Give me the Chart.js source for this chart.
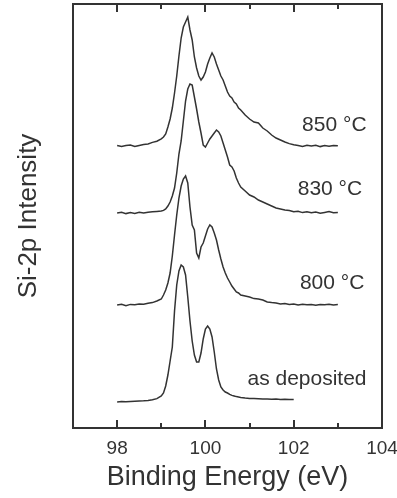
<!DOCTYPE html>
<html>
<head>
<meta charset="utf-8">
<script src="https://cdn.jsdelivr.net/npm/chart.js@4/dist/chart.umd.min.js"></script>
<style>
    html, body { margin: 0; padding: 0; background: #ffffff; }
    #wrap { width: 397px; height: 498px; }
</style>
</head>
<body>
<div id="wrap"><canvas id="xps" width="397" height="498"></canvas></div>
<script>
// binding energy grid (eV), finer around the Si-2p doublet
const ENERGY_EV = [
    98.0, 98.1, 98.2, 98.3, 98.4, 98.5, 98.6, 98.7, 98.8, 98.9, 99.0,
    99.05, 99.1, 99.15, 99.2, 99.25, 99.3, 99.35, 99.4, 99.45, 99.5,
    99.55, 99.6, 99.65, 99.7, 99.75, 99.8, 99.85, 99.9, 99.95, 100.0,
    100.05, 100.1, 100.15, 100.2, 100.25, 100.3, 100.35, 100.4, 100.45, 100.5,
    100.55, 100.6, 100.65, 100.7, 100.75, 100.8,
    100.9, 101.0, 101.1, 101.2, 101.3, 101.4, 101.5, 101.6, 101.7, 101.8,
    101.9, 102.0, 102.1, 102.2, 102.3, 102.4, 102.5, 102.6, 102.7, 102.8,
    102.9, 103.0
];

const SAMPLES = ['as deposited', '800 °C', '830 °C', '850 °C'];

// vertical offset of each spectrum in the stack (arb. units)
const STACK_OFFSETS = [13.5, 61.5, 107.5, 141];

const INTENSITY_AS_DEPOSITED = [
    -0.5, -0.3, -0.4, -0.2, -0.1, 0, 0.1, 0.3, 0.6, 1.2, 2.5,
    4, 7.5, 13, 20, 27, 45, 58, 65, 68, 67,
    63, 52, 40, 30, 23, 19.5, 19.5, 24, 31, 36,
    37.5, 36, 32, 24.5, 16, 10.5, 7, 5.5, 4.5, 4,
    3.3, 2.8, 2.5, 2.2, 2, 1.8,
    1.5, 1.3, 1.2, 1.1, 1, 1, 0.9, 1, 0.8, 0.9,
    0.8, 0.8, null, null, null, null, null, null, null, null,
    null, null
];

const INTENSITY_800 = [
    0, 0.4, -0.3, 0.3, 0.1, 0.5, 0.4, 0.9, 1.2, 2, 3,
    5, 7.5, 11, 16, 24.5, 35, 45, 53.5, 59.5, 63,
    64.5, 61, 49, 40, 37.5, 26, 23.5, 29, 31, 34.5,
    38, 40, 39, 36, 32.5, 27.5, 23, 19, 16, 13.5,
    11.5, 9.5, 8, 6.5, 6, 5,
    4.5, 4, 3.2, 3, 2.5, 1.5, 1.2, 1, 0.5, 0.8,
    0.3, 0.5, 0, 0.4, 0.1, 0.3, -0.1, 0.3, 0.1, 0.4,
    0, 0.2
];

const INTENSITY_830 = [
    0, 0.4, -0.3, 0.2, -0.2, 0.4, 0, 0.4, 0.6, 0.8, 1.0,
    1.3, 2, 3.5, 5.5, 8.5, 12.5, 20, 29.5, 36, 46,
    56, 62, 64.5, 64, 58, 52, 45.5, 40, 34, 33,
    35, 37, 38.5, 40, 41.5, 40.5, 38.5, 35, 31.5, 28,
    24, 23, 21, 17.5, 15, 13,
    11, 9, 8, 6.5, 5.5, 4.5, 3.5, 2.5, 2, 1.5,
    1.2, 0.6, 0.9, 0.2, 0.6, 0.1, 0.5, -0.1, 0.3, 0.7,
    0.1, 0.3
];

const INTENSITY_850 = [
    0.2, -0.3, 0.2, 0.5, -0.2, 0.3, 0.8, 1.0, 1.8, 2.4, 3.6,
    4.5, 6, 9.5, 13.5, 19, 26.5, 35, 45, 54, 59.5,
    62, 64.5, 58, 53, 44.5, 39, 35, 33, 34.5, 37,
    41, 44, 46.5, 44.5, 41, 38, 35, 33, 30, 27,
    25, 24, 22, 21, 19, 18,
    15.5, 13.5, 12, 11.5, 9, 7.5, 5.5, 4, 3, 2,
    1.2, 0.6, 0.3, -0.2, 0.4, 0, 0.4, -0.3, 0.2, -0.1,
    0.3, 0.1
];

const SPECTRA = [INTENSITY_AS_DEPOSITED, INTENSITY_800, INTENSITY_830, INTENSITY_850];

const INK = '#333333';
const FONT = '"Liberation Sans", Arial, Helvetica, sans-serif';

// where each sample name sits (energy, stacked intensity), right aligned
const LABEL_ANCHORS = [
    { x: 103.65, y: 21.5 },
    { x: 103.6, y: 69.5 },
    { x: 103.55, y: 116.5 },
    { x: 103.65, y: 148.5 }
];

const framePlugin = {
    id: 'frame',
    afterDraw(chart) {
        const { ctx, chartArea: area, scales } = chart;
        const xScale = scales.x;
        const yScale = scales.y;

        ctx.save();
        ctx.strokeStyle = INK;
        ctx.lineWidth = 2;
        ctx.strokeRect(area.left, area.top, area.right - area.left, area.bottom - area.top);

        // inward ticks on top and bottom, longer on labelled values
        xScale.getTicks().forEach(tick => {
            const value = Number(tick.value);
            if (value <= xScale.min || value >= xScale.max) {
                return;
            }
            const len = value % 2 === 0 ? 8 : 5;
            const px = Math.round(xScale.getPixelForValue(value));
            ctx.beginPath();
            ctx.moveTo(px, area.bottom);
            ctx.lineTo(px, area.bottom - len);
            ctx.stroke();
            ctx.beginPath();
            ctx.moveTo(px, area.top);
            ctx.lineTo(px, area.top + len);
            ctx.stroke();
        });

        ctx.fillStyle = INK;
        ctx.font = `21px ${FONT}`;
        ctx.textAlign = 'right';
        ctx.textBaseline = 'alphabetic';
        SAMPLES.forEach((name, index) => {
            const anchor = LABEL_ANCHORS[index];
            ctx.fillText(name, xScale.getPixelForValue(anchor.x), yScale.getPixelForValue(anchor.y));
        });
        ctx.restore();
    }
};

new Chart(document.getElementById('xps'), {
    type: 'line',
    data: {
        datasets: SPECTRA.map((values, index) => ({
            label: SAMPLES[index],
            data: ENERGY_EV.map((energy, i) => ({
                x: energy,
                y: values[i] === null ? null : values[i] + STACK_OFFSETS[index]
            })),
            borderColor: INK,
            borderWidth: 1.5,
            pointRadius: 0,
            tension: 0,
            spanGaps: false
        }))
    },
    options: {
        responsive: false,
        animation: false,
        layout: { padding: { top: 4, right: 15, left: 0, bottom: 0 } },
        plugins: {
            legend: { display: false },
            tooltip: { enabled: false }
        },
        scales: {
            x: {
                type: 'linear',
                min: 97,
                max: 104,
                afterFit(scale) {
                    scale.height = 70;
                    scale.paddingLeft = 0;
                    scale.paddingRight = 0;
                },
                grid: { display: false, drawTicks: false },
                border: { display: false },
                ticks: {
                    stepSize: 1,
                    autoSkip: false,
                    maxRotation: 0,
                    padding: 9,
                    color: INK,
                    font: { family: FONT, size: 19 },
                    callback(value) {
                        return value % 2 === 0 ? String(value) : '';
                    }
                },
                title: {
                    display: true,
                    text: 'Binding Energy (eV)',
                    color: INK,
                    font: { family: FONT, size: 27 },
                    padding: { top: 0, bottom: 4 }
                }
            },
            y: {
                min: 0,
                max: 212,
                afterFit(scale) {
                    scale.width = 73;
                },
                grid: { display: false, drawTicks: false },
                border: { display: false },
                ticks: { display: false },
                title: {
                    display: true,
                    text: 'Si-2p Intensity',
                    color: INK,
                    font: { family: FONT, size: 26 },
                    padding: { top: 13, bottom: 0 }
                }
            }
        }
    },
    plugins: [framePlugin]
});
</script>
</body>
</html>
